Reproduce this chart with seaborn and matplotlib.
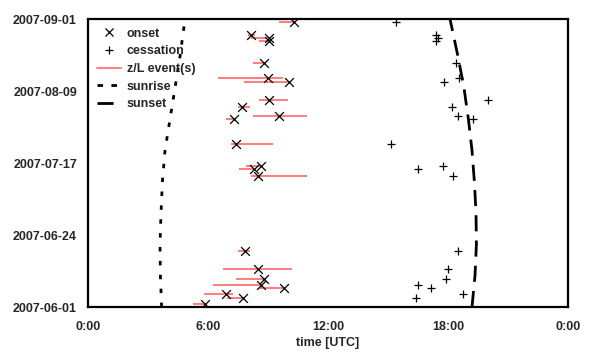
import matplotlib
matplotlib.use("Agg")
import matplotlib.pyplot as plt
import matplotlib.dates as mdates
from matplotlib.lines import Line2D
import seaborn as sns
import pandas as pd
import numpy as np

# ---- data ----
onset_dates = ["2007-08-31", "2007-08-27", "2007-08-26", "2007-08-25", "2007-08-18",
               "2007-08-13", "2007-08-12", "2007-08-06", "2007-08-04", "2007-08-01",
               "2007-07-31", "2007-07-23", "2007-07-16", "2007-07-15", "2007-07-13",
               "2007-06-19", "2007-06-13", "2007-06-10", "2007-06-08", "2007-06-07",
               "2007-06-05", "2007-06-04", "2007-06-02"]
onset_hours = [10.3, 8.15, 9.05, 9.05, 8.8, 8.98, 10.07, 9.07, 7.72, 9.55, 7.32, 7.4,
               8.65, 8.3, 8.48, 7.85, 8.48, 8.82, 8.65, 9.82, 6.9, 7.73, 5.85]
zl_start = [9.55, 8.0, 8.15, 8.55, 8.27, 6.49, 7.8, 8.57, 7.52, 8.23, 6.9, 7.15,
            7.9, 7.55, 8.15, 7.52, 6.73, 7.4, 6.23, 8.57, 5.82, 6.93, 5.23]
zl_end = [10.35, 8.35, 9.05, 9.1, 8.8, 9.74, 10.05, 9.98, 8.1, 10.93, 7.3, 9.27,
          8.65, 8.3, 10.93, 8.1, 10.18, 8.8, 8.65, 9.82, 7.25, 7.73, 5.97]

cess_dates = ["2007-08-31", "2007-08-27", "2007-08-26", "2007-08-25", "2007-08-18",
              "2007-08-13", "2007-08-12", "2007-08-06", "2007-08-04", "2007-08-01",
              "2007-07-31", "2007-07-23", "2007-07-16", "2007-07-15", "2007-07-13",
              "2007-06-19", "2007-06-13", "2007-06-10", "2007-06-08", "2007-06-07",
              "2007-06-05", "2007-06-04"]
cess_hours = [15.4, 17.4, 17.48, 17.4, 18.4, 18.57, 17.82, 19.98, 18.22, 18.48, 19.27,
              15.15, 17.73, 16.48, 18.23, 18.48, 17.98, 17.9, 16.48, 17.15, 18.73, 16.4]

sun_dates = ["2007-06-01", "2007-06-11", "2007-06-21", "2007-07-01", "2007-07-11",
             "2007-07-21", "2007-07-31", "2007-08-10", "2007-08-20", "2007-09-01"]
sunrise_hours = [3.68, 3.62, 3.6, 3.65, 3.72, 3.85, 4.1, 4.35, 4.6, 4.85]
sunset_hours = [19.2, 19.35, 19.42, 19.4, 19.32, 19.2, 19.02, 18.8, 18.5, 18.1]

ytick_dates = ["2007-06-01", "2007-06-24", "2007-07-17", "2007-08-09", "2007-09-01"]
xtick_hours = [0, 6, 12, 18, 24]
xtick_labels = ["0:00", "6:00", "12:00", "18:00", "0:00"]

# ---- build frames ----
onset = pd.DataFrame({"date": mdates.date2num(pd.to_datetime(onset_dates)),
                      "hour": onset_hours, "start": zl_start, "end": zl_end})
cess = pd.DataFrame({"date": mdates.date2num(pd.to_datetime(cess_dates)), "hour": cess_hours})
sun = pd.DataFrame({"date": mdates.date2num(pd.to_datetime(sun_dates)),
                    "sunrise": sunrise_hours, "sunset": sunset_hours})

sns.set_theme(style="white")
plt.rcParams["font.family"] = ["Liberation Sans", "DejaVu Sans"]
plt.rcParams["font.weight"] = "bold"

fig = plt.figure(figsize=(5.89, 3.54), dpi=100)
ax = fig.add_axes([88 / 589, 1 - 307 / 354, 480 / 589, 288 / 354])

zl_color = "#ff5050"
ax.hlines(onset["date"], onset["start"], onset["end"], color=zl_color, lw=1.3, alpha=0.8, zorder=2)

rise_ls = (0, (1.6, 3.4))
set_ls = (0, (5.8, 3.3))
sns.lineplot(data=sun, x="sunrise", y="date", sort=False, estimator=None, ax=ax,
             color="black", lw=2.0, linestyle=rise_ls, zorder=3)
sns.lineplot(data=sun, x="sunset", y="date", sort=False, estimator=None, ax=ax,
             color="black", lw=2.0, linestyle=set_ls, zorder=3)

sns.scatterplot(data=onset, x="hour", y="date", marker="x", s=40, color="black",
                linewidth=0.9, ax=ax, zorder=4)
sns.scatterplot(data=cess, x="hour", y="date", marker="+", s=40, color="black",
                linewidth=0.9, ax=ax, zorder=4)

ax.set_xlim(0, 24)
ymin = mdates.date2num(pd.Timestamp("2007-06-01"))
ymax = mdates.date2num(pd.Timestamp("2007-09-01"))
ax.set_ylim(ymin, ymax)

ax.set_xticks(xtick_hours)
ax.set_xticklabels(xtick_labels, fontsize=9, fontweight="bold")
ax.set_yticks(mdates.date2num(pd.to_datetime(ytick_dates)))
ax.set_yticklabels(ytick_dates, fontsize=9, fontweight="bold")
ax.tick_params(axis="both", direction="in", length=4, width=1.2, color="black")
ax.tick_params(axis="x", pad=10)
ax.tick_params(axis="y", pad=8)
ax.set_xlabel("time [UTC]", fontsize=9, fontweight="bold", labelpad=3)
ax.set_ylabel("")

for sp in ax.spines.values():
    sp.set_color("black")
    sp.set_linewidth(1.6)

handles = [
    Line2D([], [], marker="x", linestyle="none", color="black", markersize=6, markeredgewidth=0.9),
    Line2D([], [], marker="+", linestyle="none", color="black", markersize=6, markeredgewidth=0.9),
    Line2D([], [], color="#ff8080", lw=1.5),
    Line2D([], [], color="black", lw=2.0, linestyle=(0, (2.0, 3.0))),
    Line2D([], [], color="black", lw=2.0, linestyle=set_ls),
]
labels = ["onset", "cessation", "z/L event(s)", "sunrise", "sunset"]
ax.legend(handles, labels, loc="upper left", bbox_to_anchor=(0.0, 1.0), frameon=False,
          handlelength=1.9, handletextpad=0.5, labelspacing=0.45,
          borderaxespad=0.3, prop={"weight": "bold", "size": 9})

fig.savefig("out.png", dpi=100)
